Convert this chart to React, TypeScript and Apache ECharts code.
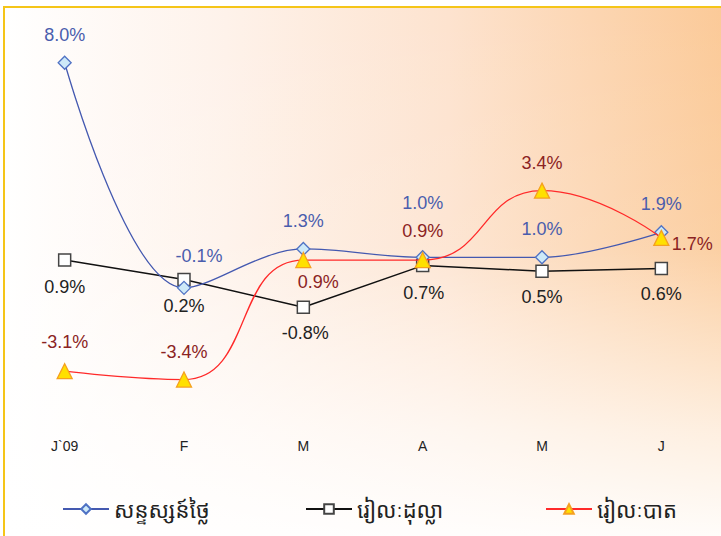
import React, { useEffect, useRef } from "react";
import * as echarts from "echarts";

const categories = ["J`09", "F", "M", "A", "M", "J"];
const seriesNames = ["សន្ទស្សន៍ថ្លៃ", "រៀលៈដុល្លា", "រៀលៈបាត"];
const priceIndex = [8.0, -0.1, 1.3, 1.0, 1.0, 1.9];
const rielDollar = [0.9, 0.2, -0.8, 0.7, 0.5, 0.6];
const rielBaht = [-3.1, -3.4, 0.9, 0.9, 3.4, 1.7];

// label offsets (layout only)
const blueOffsets = [[0, -28], [15, -32], [0, -28], [0, -54], [0, -28], [0, -28]];
const blackOffsets = [[0, 27], [0, 26], [2, 26], [1, 27], [0, 26], [0, 26]];
const redOffsets = [[0, -29], [0, -28], [15, 22], [0, -29], [0, -28], [31, 6]];

const LABEL_FONT = "'Liberation Sans', Arial, sans-serif";
const KHMER_FONT = "'Noto Sans Khmer', 'Noto Serif Khmer', 'Khmer OS', 'Khmer OS System', 'Noto Sans', sans-serif";

function withLabels(values: number[], offsets: number[][], color: string) {
  return values.map((v, i) => ({
    value: v,
    label: {
      show: true,
      position: "inside",
      offset: offsets[i],
      color,
      fontSize: 18,
      fontFamily: LABEL_FONT,
      formatter: (p: any) => p.value.toFixed(1) + "%",
    },
  }));
}

export default function App() {
  const ref = useRef<HTMLDivElement>(null);
  useEffect(() => {
    document.body.style.margin = "0";
    if (!ref.current) return;
    const chart = echarts.init(ref.current, null, { renderer: "svg" });
    const legendBase = {
      orient: "horizontal",
      top: 493,
      itemWidth: 46,
      itemHeight: 12,
      textStyle: { fontSize: 22, color: "#222", fontFamily: KHMER_FONT },
    };
    chart.setOption({
      animation: false,
      backgroundColor: "#ffffff",
      graphic: [
        {
          type: "rect",
          z: -10,
          silent: true,
          shape: { x: 4, y: 7, width: 740, height: 560 },
          style: {
            fill: new echarts.graphic.LinearGradient(0, 0, 1, 0, [
              { offset: 0, color: "#FFFFFF" },
              { offset: 0.3, color: "#FEF2EA" },
              { offset: 0.6, color: "#FDE3CF" },
              { offset: 1, color: "#FBC894" },
            ]),
            stroke: "#F5C518",
            lineWidth: 2,
          },
        },
        {
          type: "rect",
          z: -9,
          silent: true,
          shape: { x: 5, y: 8, width: 740, height: 530 },
          style: {
            fill: new echarts.graphic.LinearGradient(0, 0, 0, 1, [
              { offset: 0, color: "rgba(255,255,255,0)" },
              { offset: 0.45, color: "rgba(255,255,255,0.1)" },
              { offset: 0.8, color: "rgba(255,255,255,0.7)" },
              { offset: 1, color: "rgba(255,255,255,0.95)" },
            ]),
          },
        },
      ],
      grid: { left: 5, width: 720, top: 35, height: 389, containLabel: false },
      xAxis: {
        type: "category",
        data: categories,
        boundaryGap: true,
        axisLine: { show: false },
        axisTick: { show: false },
        splitLine: { show: false },
        axisLabel: {
          margin: 15,
          fontSize: 14,
          color: "#222",
          fontFamily: "'Liberation Sans Narrow', 'Arial Narrow', 'Liberation Sans', sans-serif",
        },
      },
      yAxis: {
        type: "value",
        min: -5,
        max: 9,
        show: false,
        splitLine: { show: false },
      },
      legend: [
        { ...legendBase, left: 57, data: [seriesNames[0]] },
        { ...legendBase, left: 300, data: [seriesNames[1]] },
        { ...legendBase, left: 540, data: [seriesNames[2]] },
      ],
      series: [
        {
          name: seriesNames[1],
          type: "line",
          smooth: false,
          data: withLabels(rielDollar, blackOffsets, "#222222"),
          symbol: "rect",
          symbolSize: 12,
          lineStyle: { color: "#111111", width: 1.5 },
          itemStyle: { color: "#ffffff", borderColor: "#444444", borderWidth: 1.5 },
          z: 3,
        },
        {
          name: seriesNames[0],
          type: "line",
          smooth: 0.35,
          data: withLabels(priceIndex, blueOffsets, "#4A5DAD"),
          symbol: "diamond",
          symbolSize: 13,
          lineStyle: { color: "#4459B0", width: 1.3 },
          itemStyle: { color: "#CDE9F8", borderColor: "#4F72C4", borderWidth: 1.3 },
          z: 4,
        },
        {
          name: seriesNames[2],
          type: "line",
          smooth: 0.5,
          data: withLabels(rielBaht, redOffsets, "#8B2323"),
          symbol: "triangle",
          symbolSize: 15,
          lineStyle: { color: "#FF2A2A", width: 1.3 },
          itemStyle: { color: "#FFE000", borderColor: "#F5A020", borderWidth: 1.3 },
          z: 5,
        },
      ],
    });
    return () => chart.dispose();
  }, []);
  return <div ref={ref} style={{ width: 721, height: 536 }} />;
}
